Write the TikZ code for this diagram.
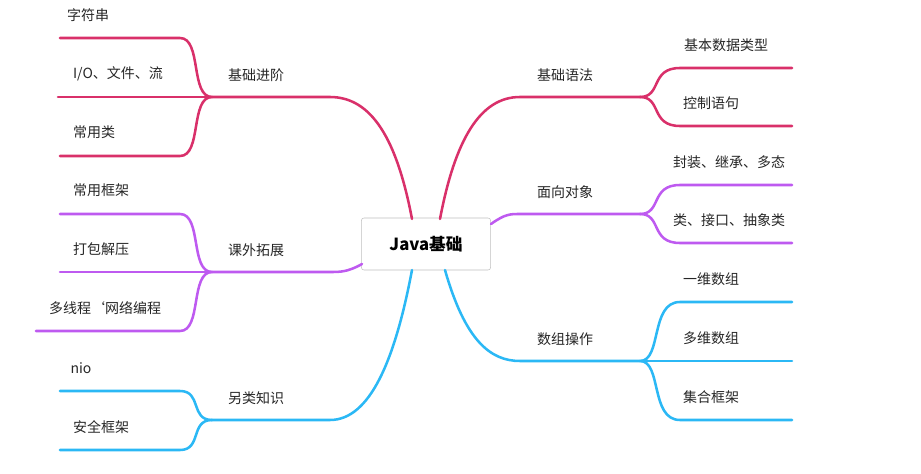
\documentclass[tikz,border=0pt]{standalone}
\usepackage{fontspec}
\setmainfont{Noto Sans CJK SC}
\begin{document}
\begin{tikzpicture}[x=0.75pt,y=-0.75pt,
  lbl/.style={font=\fontsize{10.5}{12}\selectfont,inner sep=0pt,text=black!85},
  br/.style={line width=1.9pt,line cap=round}]
\definecolor{red1}{HTML}{D9306A}
\definecolor{pur1}{HTML}{BE5AF0}
\definecolor{blu1}{HTML}{2BB8F5}
\useasboundingbox (0,0) rectangle (921,474);
\node[draw=black!25,rounded corners=2pt,inner sep=0pt,
  minimum width=97pt,minimum height=39pt,font=\bfseries\fontsize{12.5}{14}\selectfont] (c) at (426,244) {Java基础};
% right
\draw[br,draw=red1] (440,219) .. controls (455,140) and (480,97) .. (520,97) -- (640,97);
\draw[br,draw=pur1] (491,224) .. controls (505,214) and (510,214) .. (520,214) -- (640,214);
\draw[br,draw=blu1] (445,270) .. controls (465,340) and (490,361) .. (520,361) -- (640,361);
\node[lbl] (t1) at (565,75) {基础语法};
\node[lbl] (t2) at (565,192) {面向对象};
\node[lbl] (t3) at (565,339) {数组操作};
\foreach \col/\y/\e in {red1/97/68,red1/97/126,pur1/214/185,pur1/214/243,blu1/361/302,blu1/361/361,blu1/361/420}
  \draw[br,draw=\col] (640,\y) .. controls (662,\y) and (650,\e) .. (680,\e) -- (792,\e);
\node[lbl] at (726,45) {基本数据类型};
\node[lbl] at (711,103) {控制语句};
\node[lbl] at (729,162) {封装、继承、多态};
\node[lbl] at (729,220) {类、接口、抽象类};
\node[lbl] at (711,279) {一维数组};
\node[lbl] at (711,338) {多维数组};
\node[lbl] at (711,397) {集合框架};
% left
\draw[br,draw=red1] (412,219) .. controls (397,140) and (372,97) .. (330,97) -- (212,97);
\draw[br,draw=pur1] (362,264) .. controls (348,272) and (340,272) .. (330,272) -- (212,272);
\draw[br,draw=blu1] (412,270) .. controls (395,360) and (370,420) .. (330,420) -- (212,420);
\node[lbl] at (256,75) {基础进阶};
\node[lbl] at (256,250) {课外拓展};
\node[lbl] at (256,398) {另类知识};
\foreach \col/\y/\e/\x in {red1/97/38/60,red1/97/97/58,red1/97/156/60,pur1/272/214/60,pur1/272/272/60,pur1/272/331/36,blu1/420/391/60,blu1/420/450/60}
  \draw[br,draw=\col] (212,\y) .. controls (190,\y) and (202,\e) .. (180,\e) -- (\x,\e);
\node[lbl] at (88,15) {字符串};
\node[lbl] at (118,74) {I/O、文件、流};
\node[lbl] at (94,132) {常用类};
\node[lbl] at (101,190) {常用框架};
\node[lbl] at (101,249) {打包解压};
\node[lbl] at (105,308) {多线程‘网络编程};
\node[lbl] at (81,368) {nio};
\node[lbl] at (101,427) {安全框架};
\end{tikzpicture}
\end{document}
